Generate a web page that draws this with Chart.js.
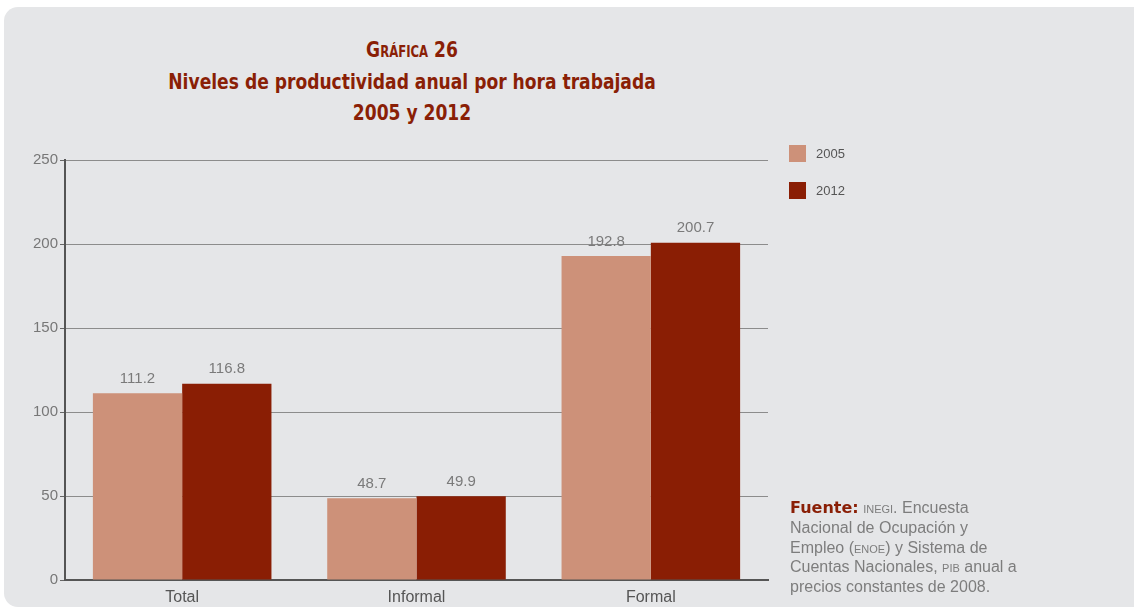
<!DOCTYPE html>
<html>
<head>
<meta charset="utf-8">
<script src="https://cdn.jsdelivr.net/npm/chart.js@4"></script>
<style>
    html, body { margin: 0; padding: 0; background: #fff; }
    body { width: 1134px; height: 611px; position: relative; overflow: hidden; font-family: "Liberation Sans", Arial, sans-serif; }
    .panel { position: absolute; left: 4px; top: 7px; right: -20px; bottom: 4px; background: #e5e6e8; border-radius: 14px 0 0 14px; }
    .title { position: absolute; left: 112px; width: 600px; text-align: center; color: #8a1f06; font-family: "DejaVu Sans Condensed", sans-serif; font-weight: bold; transform: scaleX(0.865); transform-origin: 300px 0; }
    .t1 { top: 37px; font-size: 22px; font-variant: small-caps; }
    .t2 { top: 69px; font-size: 22px; }
    .t3 { top: 100px; font-size: 22px; }
    #chart { position: absolute; left: 0; top: 0; }
    .legend { position: absolute; left: 789px; font-size: 13px; color: #555; }
    .legend span.box { position: absolute; left: 0; top: 0; width: 17px; height: 17px; }
    .legend span.lbl { position: absolute; left: 27px; top: 1px; }
    .source { position: absolute; left: 790px; top: 498px; width: 300px; font-size: 16px; line-height: 19.8px; color: #7d7d7d; }
    .source b { color: #8a1f06; font-family: "DejaVu Sans", sans-serif; font-size: 16px; }
    .sc { font-variant: small-caps; }
</style>
</head>
<body>
<div class="panel"></div>
<div class="title t1">Gráfica 26</div>
<div class="title t2">Niveles de productividad anual por hora trabajada</div>
<div class="title t3">2005 y 2012</div>
<canvas id="chart" width="1134" height="611"></canvas>
<div id="legend"></div>
<div class="source"><b>Fuente:</b> <span class="sc">inegi</span>. Encuesta<br>Nacional de Ocupación y<br>Empleo (<span class="sc">enoe</span>) y Sistema de<br>Cuentas Nacionales, <span class="sc">pib</span> anual a<br>precios constantes de 2008.</div>
<script>
const categories = ["Total", "Informal", "Formal"];
const seriesNames = ["2005", "2012"];
const values2005 = [111.2, 48.7, 192.8];
const values2012 = [116.8, 49.9, 200.7];
const seriesColors = ["#cd9179", "#8a1e04"];

// labels above each bar
const barLabels = {
    id: "barLabels",
    afterDatasetsDraw(chart) {
        const ctx = chart.ctx;
        ctx.save();
        ctx.font = "15px 'Liberation Sans', Arial, sans-serif";
        ctx.fillStyle = "#7a7a7a";
        ctx.textAlign = "center";
        ctx.textBaseline = "bottom";
        chart.data.datasets.forEach((ds, i) => {
            chart.getDatasetMeta(i).data.forEach((bar, j) => {
                ctx.fillText(ds.data[j].toFixed(1), bar.x, bar.y - 7);
            });
        });
        ctx.restore();
    }
};

const legend = document.getElementById("legend");
seriesNames.forEach((name, i) => {
    const item = document.createElement("div");
    item.className = "legend";
    item.style.top = (145 + i * 37) + "px";
    item.innerHTML = `<span class="box" style="background:${seriesColors[i]}"></span><span class="lbl">${name}</span>`;
    legend.appendChild(item);
});

new Chart(document.getElementById("chart").getContext("2d"), {
    type: "bar",
    data: {
        labels: categories,
        datasets: [
            { label: seriesNames[0], data: values2005, backgroundColor: seriesColors[0] },
            { label: seriesNames[1], data: values2012, backgroundColor: seriesColors[1] }
        ]
    },
    options: {
        responsive: false,
        animation: false,
        layout: { padding: { left: 0, right: 366, top: 160, bottom: 0 } },
        datasets: { bar: { barPercentage: 1, categoryPercentage: 0.762 } },
        plugins: { legend: { display: false }, tooltip: { enabled: false } },
        scales: {
            x: {
                grid: { display: false },
                border: { color: "#555", width: 2 },
                ticks: { color: "#555", font: { family: "Liberation Sans", size: 16 }, padding: 0 },
                afterFit(scale) { scale.height = 31; }
            },
            y: {
                min: 0,
                max: 250,
                ticks: { stepSize: 50, color: "#777", font: { family: "Liberation Sans", size: 15 }, padding: 2 },
                grid: { color: "#8c8c8c", lineWidth: 1, tickLength: 5, tickColor: "#666" },
                border: { color: "#555", width: 2 },
                afterFit(scale) { scale.width = 65; }
            }
        }
    },
    plugins: [barLabels]
});
</script>
</body>
</html>
